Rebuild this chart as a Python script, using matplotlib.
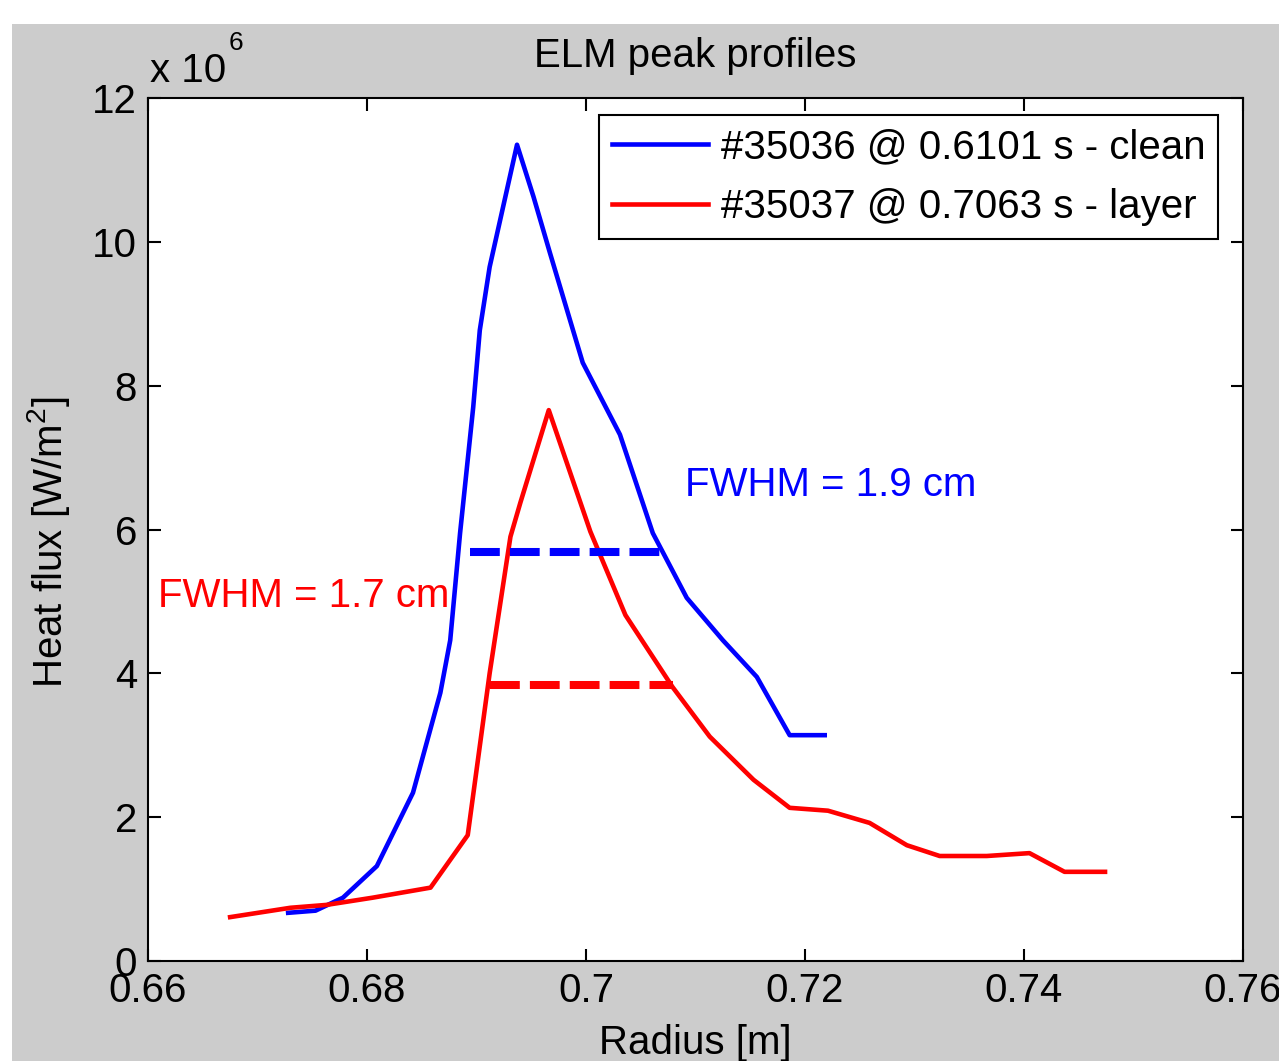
import matplotlib
matplotlib.use("Agg")
import matplotlib.pyplot as plt
from matplotlib.patches import Rectangle
import numpy as np

# radius [m] and heat flux [W/m^2]
r_clean = [0.6728, 0.6753, 0.6778, 0.6809, 0.6842, 0.6867, 0.6876, 0.6885,
           0.6897, 0.6903, 0.6912, 0.6937, 0.6952, 0.6967, 0.6997, 0.7031,
           0.7061, 0.7092, 0.7125, 0.7156, 0.7186, 0.7218]
q_clean = [0.67, 0.70, 0.88, 1.32, 2.34, 3.73, 4.46, 5.95,
           7.70, 8.77, 9.65, 11.35, 10.63, 9.85, 8.32, 7.32,
           5.95, 5.05, 4.46, 3.95, 3.14, 3.14]

r_layer = [0.6675, 0.6730, 0.6763, 0.6805, 0.6858, 0.6892, 0.6912, 0.6931,
           0.6940, 0.6966, 0.7004, 0.7036, 0.7079, 0.7113, 0.7153, 0.7186,
           0.7221, 0.7259, 0.7293, 0.7323, 0.7366, 0.7405, 0.7437, 0.7474]
q_layer = [0.61, 0.74, 0.78, 0.88, 1.02, 1.75, 4.00, 5.90,
           6.37, 7.66, 5.97, 4.81, 3.81, 3.12, 2.52, 2.13,
           2.09, 1.92, 1.61, 1.46, 1.46, 1.50, 1.24, 1.24]
q_clean = np.array(q_clean) * 1e6
q_layer = np.array(q_layer) * 1e6

# half-maximum markers
fwhm_clean_r = [0.6894, 0.7069]
fwhm_clean_q = 5.69e6
fwhm_layer_r = [0.6912, 0.7079]
fwhm_layer_q = 3.84e6

labels = ['#35036 @ 0.6101 s - clean', '#35037 @ 0.7063 s - layer']
xticks = [0.66, 0.68, 0.70, 0.72, 0.74, 0.76]
xticklabels = ['0.66', '0.68', '0.7', '0.72', '0.74', '0.76']
yticks = [0, 2, 4, 6, 8, 10, 12]

plt.rcParams['font.family'] = ['Liberation Sans', 'DejaVu Sans']
plt.rcParams['mathtext.fontset'] = 'custom'
plt.rcParams['mathtext.rm'] = 'Liberation Sans'
fs = 29

fig = plt.figure(figsize=(12.79, 10.61), dpi=100, facecolor='white')
fig.patches.append(Rectangle((12/1279, 0), 1, 1 - 24/1061, transform=fig.transFigure,
                             facecolor='#cccccc', edgecolor='none', zorder=-10))
ax = fig.add_axes([148/1279, 1 - 961/1061, 1095/1279, 863/1061])

ax.plot(r_clean, q_clean/1e6, color='#0000ff', lw=3.3, label=labels[0])
ax.plot(r_layer, q_layer/1e6, color='#ff0000', lw=3.3, label=labels[1])
ax.plot(fwhm_clean_r, [fwhm_clean_q/1e6]*2, color='#0000ff', lw=5.8, linestyle=(0, (3.7, 1.25)))
ax.plot(fwhm_layer_r, [fwhm_layer_q/1e6]*2, color='#ff0000', lw=5.8, linestyle=(0, (3.7, 1.25)))

ax.text(0.7090, 6.62, 'FWHM = 1.9 cm', color='#0000ff', fontsize=fs, va='center')
ax.text(0.6609, 5.08, 'FWHM = 1.7 cm', color='#ff0000', fontsize=fs, va='center')

ax.set_xlim(0.66, 0.76)
ax.set_ylim(0, 12)
ax.set_xticks(xticks)
ax.set_xticklabels(xticklabels)
ax.set_yticks(yticks)
ax.tick_params(direction='in', length=9, width=1.5, labelsize=fs, top=True, right=True,
               pad=8)
for s in ax.spines.values():
    s.set_linewidth(1.5)

ax.set_title('ELM peak profiles', fontsize=fs, pad=22)
ax.set_xlabel('Radius [m]', fontsize=fs, labelpad=10)
ax.set_ylabel(r'Heat flux [W/m$^{2}$]', fontsize=fs)
ax.yaxis.set_label_coords(-0.069, 0.4855)

fig.text(150/1279, 1 - 82/1061, 'x 10', fontsize=fs, va='baseline', ha='left')
fig.text(229/1279, 1 - 50/1061, '6', fontsize=19, va='baseline', ha='left')

leg = ax.legend(loc='upper right', bbox_to_anchor=(0.9772, 0.9803), borderaxespad=0,
                fontsize=fs, fancybox=False, framealpha=1, edgecolor='black',
                handlelength=2.4, handletextpad=0.3, labelspacing=0.55, borderpad=0.32)
leg.get_frame().set_linewidth(1.5)
for h in leg.get_lines():
    h.set_linewidth(3.3)

fig.savefig('out.png', dpi=100, facecolor=fig.get_facecolor())
